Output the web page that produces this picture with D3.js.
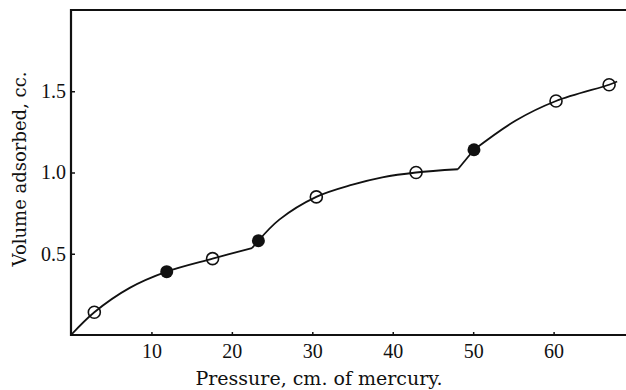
<!DOCTYPE html>
<html>
<head>
<meta charset="utf-8">
<script src="https://cdn.jsdelivr.net/npm/d3@7"></script>
<style>
  body { margin: 0; background: #fff; }
  svg text { fill: #111; }
</style>
</head>
<body>
<div id="chart"></div>
<script>
// pressure (cm Hg) and volume adsorbed (cc)
var openX = [2.9, 17.6, 30.5, 42.9, 60.3, 66.9],
    openY = [0.14, 0.47, 0.85, 1.00, 1.44, 1.54];
var filledX = [11.9, 23.3, 50.1],
    filledY = [0.39, 0.58, 1.14];

// smooth curve, drawn in pieces (kinks near 23 and 49)
var curveA = [[0, 0], [2.9, 0.14], [7.3, 0.29], [11.9, 0.39], [17.6, 0.47], [22.5, 0.535]],
    linkA  = [[22.5, 0.535], [23.3, 0.58]],
    curveB = [[23.3, 0.58], [25.9, 0.71], [30.5, 0.85], [35.0, 0.925], [38.7, 0.97], [42.9, 1.0], [48.1, 1.02]],
    linkB  = [[48.1, 1.02], [50.1, 1.14]],
    curveC = [[50.1, 1.14], [55.3, 1.32], [60.3, 1.44], [66.9, 1.54], [67.9, 1.56]];

var xTicks = [10, 20, 30, 40, 50, 60],
    yTicks = [0.5, 1.0, 1.5];

var w = 626, h = 390;

var x = d3.scaleLinear().domain([0, 69]).range([71, 626]);
var y = d3.scaleLinear().domain([0, 2]).range([335, 10]);

var svg = d3.select("#chart").append("svg")
    .attr("width", w)
    .attr("height", h);

// axes
var xAxis = d3.axisBottom(x)
    .tickValues(xTicks)
    .tickFormat(d3.format("d"))
    .tickSizeInner(-3)
    .tickSizeOuter(0)
    .tickPadding(9);

var yAxis = d3.axisLeft(y)
    .tickValues(yTicks)
    .tickFormat(d3.format(".1f"))
    .tickSizeInner(-4)
    .tickSizeOuter(0)
    .tickPadding(5);

var gx = svg.append("g")
    .attr("transform", "translate(0," + y(0) + ")")
    .call(xAxis);
var gy = svg.append("g")
    .attr("transform", "translate(" + x(0) + ",0)")
    .call(yAxis);

[gx, gy].forEach(function (g) {
    g.select(".domain").attr("stroke", "#111").attr("stroke-width", 2.2);
    g.selectAll(".tick line").attr("stroke", "#111").attr("stroke-width", 1.5);
    g.selectAll(".tick text")
        .attr("font-size", "20px")
        .attr("font-family", "Liberation Serif, serif")
        .attr("fill", "#111");
});
gx.select(".domain").attr("d", "M" + (x(0) - 1) + ",0H" + w);
gy.select(".domain").attr("d", "M0," + (y(0) + 1) + "V" + (y(2) - 1));

// top frame line
svg.append("line")
    .attr("x1", x(0) - 1)
    .attr("x2", w)
    .attr("y1", y(2))
    .attr("y2", y(2))
    .attr("stroke", "#111")
    .attr("stroke-width", 2.2);

// curve
var line = d3.line()
    .x(function (d) { return x(d[0]); })
    .y(function (d) { return y(d[1]); })
    .curve(d3.curveCatmullRom.alpha(0.5));

[curveA, linkA, curveB, linkB, curveC].forEach(function (seg) {
    svg.append("path")
        .attr("d", line(seg))
        .attr("fill", "none")
        .attr("stroke", "#111")
        .attr("stroke-width", 1.8);
});

// markers
svg.selectAll(".open")
    .data(openX)
    .enter()
    .append("circle")
    .attr("class", "open")
    .attr("cx", function (d) { return x(d); })
    .attr("cy", function (d, i) { return y(openY[i]); })
    .attr("r", 6)
    .attr("fill", "none")
    .attr("stroke", "#111")
    .attr("stroke-width", 1.6);

svg.selectAll(".filled")
    .data(filledX)
    .enter()
    .append("circle")
    .attr("class", "filled")
    .attr("cx", function (d) { return x(d); })
    .attr("cy", function (d, i) { return y(filledY[i]); })
    .attr("r", 6.5)
    .attr("fill", "#111");

// titles
svg.append("text")
    .attr("x", 319)
    .attr("y", 385)
    .attr("text-anchor", "middle")
    .attr("font-family", "DejaVu Serif, serif")
    .attr("font-size", "19px")
    .text("Pressure, cm. of mercury.");

svg.append("text")
    .attr("transform", "translate(26,169) rotate(-90)")
    .attr("text-anchor", "middle")
    .attr("font-family", "DejaVu Serif, serif")
    .attr("font-size", "18px")
    .text("Volume adsorbed, cc.");
</script>
</body>
</html>
